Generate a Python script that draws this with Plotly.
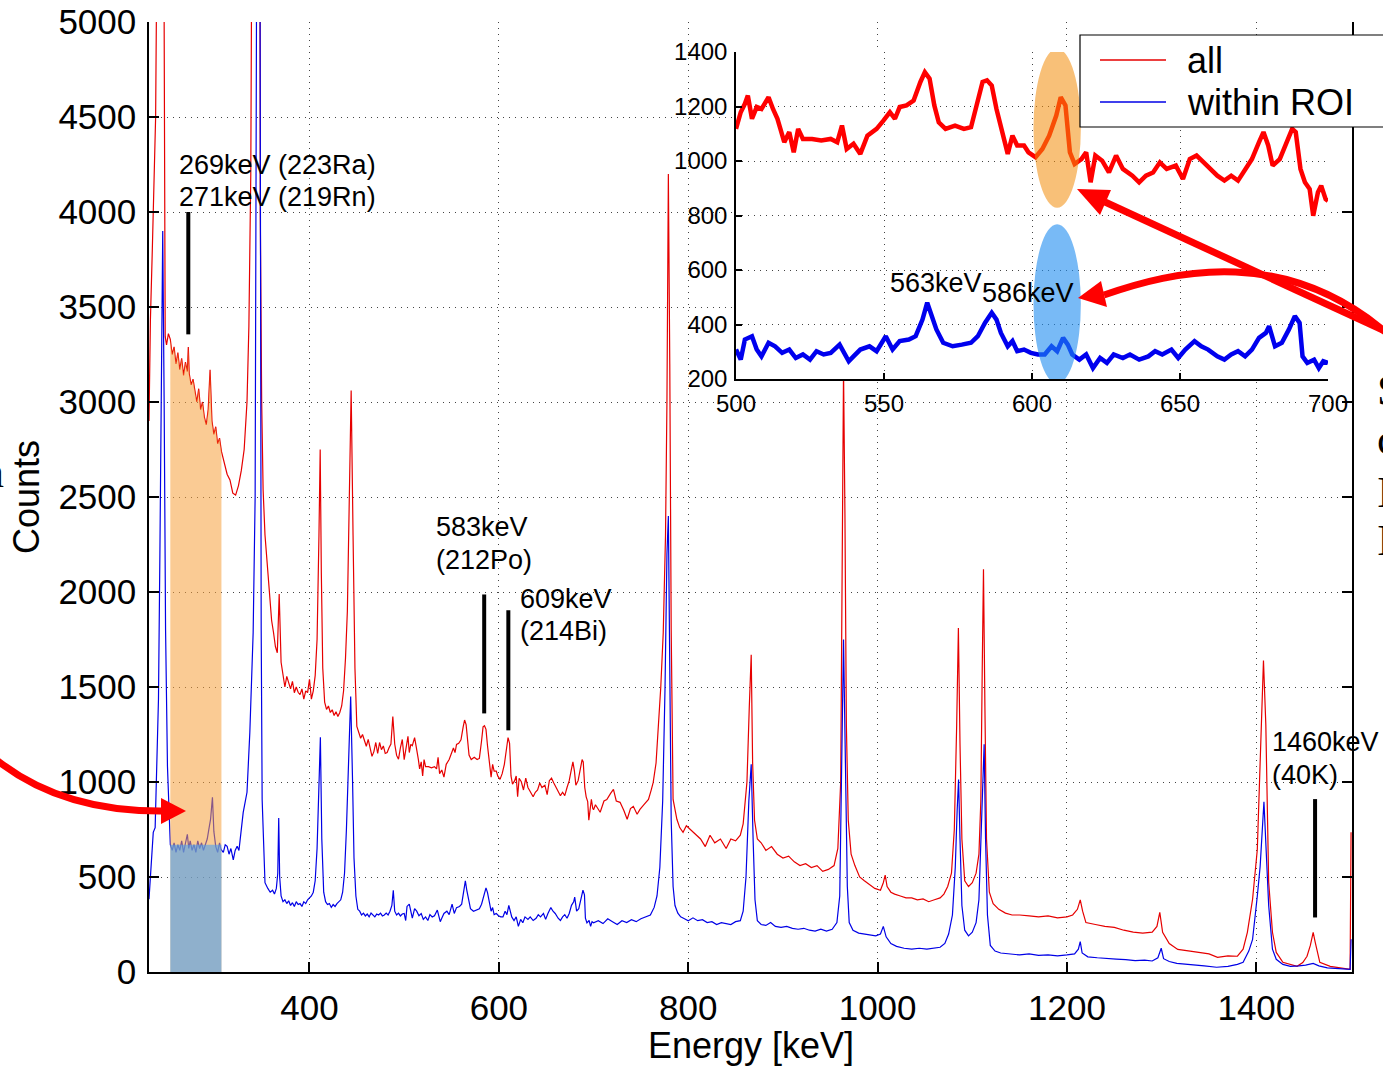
import plotly.graph_objects as go

# ---------------- data ----------------
# "all" spectrum, counts vs energy [keV]
all_low = [[230.5,2900],[232,3435],[234,3800],[236,4200],[237.5,4500],[239,5500],[241,9000],[243,12000],[245,8000],[246.5,5000],[247.6,3345],[249,3300],[251,3360],[253,3330],[255,3250],[257,3290],[259,3200],[261,3260],[263,3170],[265,3230],[267,3140],[269,3210],[271,3160],[272,3290],[273,3150],[275,3090],[277,3120],[279,3060],[281,3000],[283,3070],[285,2960],[287,3000],[289,2920],[291,2880],[293,2960],[295,3170],[297,2900],[299,2830],[301,2870],[303,2780],[305,2810],[307,2740],[310,2680],[313,2620],[316,2590],[319,2520],[322,2510],[325,2560],[328,2640],[331,2750],[334,3000],[336,3400],[338,4200],[340,5200],[342,8000],[344.5,12000],[347,9000],[348,4000],[349.5,3000],[351,2540],[353,2300],[356,2100],[358,1950],[360,1850],[362,1787],[364,1713],[366,1680],[368,1990],[370,1630],[372,1560],[374,1500],[376,1556],[378,1520],[380,1490],[382,1530],[384,1470],[386,1500],[388,1472],[390,1460],[392,1490],[394,1436],[396,1480],[398,1470],[400,1540],[402,1436],[404,1480],[406,1560],[408,1750],[410,2300],[411.3,2750],[412.5,2100],[414,1600],[416,1420],[418,1382],[420,1400],[422,1366],[424,1380],[426,1350],[428,1370],[430,1345],[432,1366],[434,1400],[436,1480],[438,1650],[440,1900],[442,2500],[444,3060],[446,2300],[448,1600],[450,1292],[452,1260],[454,1230],[456,1250],[458,1220],[460,1188],[462,1224],[464,1180],[466,1135],[468,1160],[470,1208],[472,1150],[474,1208],[476,1170],[478,1190],[480,1150],[482,1155],[484,1180],[486,1200],[488,1345],[490,1200],[492,1140],[494,1120],[496,1180],[498,1224]]
all_mid = [[500,1118],[501.6,1179],[503,1210],[504,1240],[505.4,1155],[507,1198],[508.6,1191],[511,1234],[512.5,1191],[514,1155],[515,1118],[516.3,1069],[518,1106],[519.5,1032],[521,1118],[522.6,1081],[525.7,1081],[528.8,1075],[532,1081],[534.2,1069],[535.8,1130],[537.4,1044],[539.7,1063],[542,1026],[544.4,1093],[547.5,1118],[549.8,1148],[552,1179],[553.7,1155],[555.3,1198],[557.6,1204],[560,1222],[562.3,1290],[563.8,1326],[565.4,1302],[567,1204],[568.5,1142],[570.8,1118],[574,1130],[577,1118],[579.4,1124],[581.7,1216],[583.3,1290],[584.8,1296],[586.4,1277],[588,1191],[590.3,1081],[591.8,1026],[593.4,1093],[595,1057],[597.3,1057],[598.8,1032],[601.2,1014],[603.5,1044],[605.8,1093],[608.2,1167],[609.7,1234],[611.3,1204],[612.8,1032],[614.4,989],[616.7,1007],[618.3,1032],[619.8,922],[621.4,1020],[623.7,1001],[626,958],[628.4,1020],[630.7,971],[633.9,946],[636.2,922],[638.5,946],[640.9,958],[643.2,995],[645.5,971],[648.6,983],[651,934],[653.3,1007],[655.6,1020],[658,995],[660.3,971],[662.6,946],[665,928],[667.3,946],[669.6,928],[672,971],[674.3,1007],[676.7,1069],[678.2,1106],[679.8,1057],[681.3,983],[683.7,1007],[686,1069],[687.9,1118],[689.1,1106],[690.7,971],[692.2,922],[693.8,897],[695,799],[696.6,885],[697.7,909],[699.2,860],[700,854]]
all_high = [[702,880],[707,841],[711,900],[714,908],[718,940],[721,961],[724,900],[728,893],[732,850],[735.5,804],[739,860],[742,872],[746,830],[749,856],[753,880],[758,908],[761,960],[763,998],[766,1100],[768,1262],[771,1500],[773.6,1787],[776,2300],[777.5,3000],[779,4200],[780.5,3200],[782,1800],[784,908],[788,804],[791,760],[794.5,735],[798,770],[802,751],[806,730],[809.5,714],[813,700],[818,660],[823,720],[828,680],[834,700],[840,650],[845,700],[850,690],[855,720],[858,780],[862,1000],[864.5,1400],[866.5,1670],[868,1100],[870,800],[873,700],[877,680],[882,640],[888,660],[894,620],[900,600],[906,610],[912,580],[918,560],[924,570],[930,550],[936,560],[942,530],[948,540],[954,560],[958,650],[961,1000],[962.5,2200],[964,3170],[965.5,2400],[967,1300],[969,800],[972,620],[976,560],[981,500],[986,480],[992,460],[997,440],[1003,430],[1006,470],[1008,510],[1010,450],[1014,420],[1018,410],[1024,400],[1030,390],[1036,390],[1042,380],[1048,385],[1054,370],[1060,380],[1066,390],[1070,410],[1074,450],[1078,520],[1081,750],[1083.5,1300],[1085.3,1810],[1087,1200],[1089,700],[1092,480],[1096,450],[1100,470],[1104,520],[1107,620],[1109,900],[1110.5,1600],[1111.8,2120],[1113.3,1400],[1115,700],[1118,420],[1122,360],[1128,330],[1135,310],[1142,300],[1150,300],[1160,295],[1170,290],[1180,295],[1190,285],[1200,290],[1206,300],[1211,330],[1214,380],[1216.5,320],[1220,260],[1230,250],[1240,240],[1250,235],[1260,220],[1270,210],[1280,205],[1290,210],[1295,240],[1298,314],[1301,209],[1308,150],[1317,119],[1330,110],[1341,103],[1350,95],[1359,77],[1370,85],[1380,83],[1386,120],[1390.5,209],[1396,383],[1401,645],[1404,1083],[1407.5,1640],[1410,1300],[1413,472],[1417,209],[1421,103],[1428,51],[1436,40],[1443,30],[1449,50],[1453.5,83],[1457,140],[1460,209],[1462,160],[1464,119],[1467,51],[1478,30],[1490,20],[1499,14],[1500,735]]

# "within ROI" spectrum
roi_low = [[230.5,383],[233,600],[235,735],[237,760],[239,1083],[240.5,1435],[242,2200],[243.5,3300],[245,3900],[246.5,3000],[248,1800],[250,1083],[252,750],[253,670],[255,640],[257,680],[259,630],[261,670],[263,640],[265,690],[267,630],[269,680],[271,725],[272.5,650],[274,690],[276,640],[278,670],[280,630],[282,690],[284,650],[286,680],[288,640],[290,670],[292,700],[294,760],[295.5,803],[297.5,920],[299,740],[301,660],[303,630],[305,680],[306.5,646],[309,630],[311,670],[313,662],[315,620],[317,650],[319.5,590],[321.5,640],[323.6,662],[325.5,640],[327,700],[330,840],[334,946],[337,1262],[340.5,1787],[342.6,2500],[344,5000],[346,8000],[347.5,6000],[348.2,3500],[349,1800],[350,908],[352,600],[353,470],[356,440],[358.5,420],[361,430],[363,410],[365,440],[366.5,520],[367.5,810],[368.5,500],[370,400],[372,370],[374,380],[376,360],[378,375],[380,350],[382,365],[384,345],[386,370],[388,355],[390,360],[392,345],[394,370],[396,360],[398,380],[400,390],[402,400],[404,420],[406,480],[408,650],[410,1000],[411.5,1235],[413,700],[415,420],[417,370],[419,355],[421,360],[423,340],[425,355],[427,345],[429,360],[431,370],[433,380],[435,420],[437,520],[439,750],[441,1100],[443.5,1450],[445.5,1000],[447,600],[449,400],[451,330],[453,320],[455,300],[457,310],[459,295],[461,305],[463,290],[465,310],[467,300],[469,290],[471,305],[473,300],[475,310],[477,295],[479,300],[481,310],[483,300],[485,320],[487,350],[488.5,430],[490,320],[492,300],[494,310],[496,295],[498,305]]
roi_mid = [[500,308],[501.6,271],[503,345],[505.4,357],[507,308],[508.6,283],[511,333],[513.2,320],[515.6,296],[518,308],[520.2,277],[522.6,290],[525,271],[527.2,302],[529.6,290],[532,296],[535,326],[538.1,265],[539.7,283],[542,308],[545.1,320],[547.5,302],[550.6,357],[552.9,308],[555.3,339],[558.4,345],[560.7,357],[563,418],[564.6,480],[566.1,431],[567.7,382],[570,333],[573.2,320],[576.3,326],[579.4,333],[581.7,357],[584.1,406],[586.4,443],[588,418],[589.5,369],[591.8,320],[593.4,339],[595,302],[597.3,308],[599.6,296],[602,290],[604.3,290],[606.6,320],[608.5,302],[610.5,351],[612.1,326],[613.6,290],[616,271],[618.3,290],[620.6,240],[623,277],[625.3,259],[627.6,290],[630.7,277],[633.1,290],[636.2,271],[639.3,283],[641.6,302],[644,290],[647.1,308],[649.4,277],[651.8,308],[654.9,339],[657.2,320],[659.5,308],[662.6,283],[665,271],[667.3,290],[669.6,302],[672,283],[674.3,308],[676.7,351],[679,369],[680.1,394],[682.1,320],[684.4,333],[686.8,382],[688.8,431],[690.4,406],[691.4,283],[693,259],[695.3,271],[696.9,240],[698.4,265],[700,259]]
roi_high = [[702,262],[705,270],[710,255],[715,280],[720,265],[725,250],[730,270],[735,260],[740,275],[745,265],[750,280],[755,290],[760,300],[764,340],[767,400],[770,550],[773,900],[775.5,1500],[777.5,2200],[779,2400],[780.5,1600],[782,800],[784,450],[786,350],[789,310],[792,290],[796,280],[800,270],[805,285],[810,270],[815,275],[820,260],[825,265],[830,250],[835,260],[840,255],[845,250],[850,265],[855,270],[858,320],[861,500],[864,900],[866.5,1093],[868.5,700],[870.5,380],[873,270],[877,250],[882,245],[887,260],[892,240],[898,235],[904,240],[910,230],[916,225],[922,230],[928,220],[934,215],[940,225],[946,215],[952,225],[957,260],[960,400],[962,1000],[964,1750],[966,1100],[968,450],[970,260],[974,220],[980,205],[986,200],[992,195],[998,190],[1003,200],[1006,240],[1009,185],[1014,150],[1020,135],[1028,125],[1036,120],[1044,125],[1052,120],[1060,125],[1066,130],[1071,150],[1075,200],[1079,300],[1082,550],[1084,850],[1085.5,1013],[1087,700],[1089,350],[1092,220],[1096,190],[1100,210],[1104,260],[1107,380],[1109,700],[1111,1000],[1112.5,1199],[1114,700],[1116,300],[1119,140],[1124,110],[1130,100],[1140,95],[1150,90],[1160,95],[1170,88],[1180,90],[1190,85],[1200,90],[1208,95],[1212,120],[1214,160],[1216,100],[1222,80],[1232,75],[1242,70],[1252,68],[1262,65],[1272,60],[1282,62],[1290,58],[1296,75],[1299.5,125],[1302,70],[1308,55],[1316,45],[1325,42],[1335,35],[1345,32],[1358,25],[1370,30],[1380,40],[1386,51],[1392,110],[1396,172],[1401,400],[1404,556],[1408,896],[1410.5,640],[1413,350],[1417,120],[1421,67],[1428,40],[1436,30],[1445,32],[1452,36],[1460,45],[1466,32],[1475,22],[1485,18],[1495,14],[1499,14],[1500,172]]

series_names = ["all", "within ROI"]
main_xticks = [400, 600, 800, 1000, 1200, 1400]
main_yticks = [0, 500, 1000, 1500, 2000, 2500, 3000, 3500, 4000, 4500, 5000]
inset_xticks = [500, 550, 600, 650, 700]
inset_yticks = [200, 400, 600, 800, 1000, 1200, 1400]

roi_band = [253, 307]          # keV range highlighted
roi_band_level = 670           # counts level of blue block

# peak markers: (energy, y_bottom, y_top)
markers = [(272, 3356, 4000), (584.5, 1361, 1987), (610, 1272, 1904), (1462, 287, 910)]

# ---------------- layout geometry ----------------
W, H = 1383, 1067
ML, MR, MT, MB = 149, 31, 22, 95
PW = W - ML - MR
PH = H - MT - MB

def fx(x):
    return (x - ML) / PW

def fy(y):
    return (H - MB - y) / PH

def P(x, y):
    return f"{fx(x):.5f},{fy(y):.5f}"

def split(pairs):
    return [p[0] for p in pairs], [p[1] for p in pairs]

aE, aC = split(all_low + all_mid + all_high)
rE, rC = split(roi_low + roi_mid + roi_high)
aEm, aCm = split(all_mid)
rEm, rCm = split(roi_mid)
bandE = [e for e in aE if roi_band[0] <= e <= roi_band[1]]
bandC = [c for e, c in zip(aE, aC) if roi_band[0] <= e <= roi_band[1]]

FONT = "Arial, Liberation Sans, sans-serif"
RED = "rgb(230,0,0)"
BLUE = "rgb(0,0,230)"

fig = go.Figure()
fig.add_trace(go.Scatter(x=aE, y=aC, mode="lines", name=series_names[0],
                         line=dict(color=RED, width=1.2), xaxis="x", yaxis="y"))
fig.add_trace(go.Scatter(x=rE, y=rC, mode="lines", name=series_names[1],
                         line=dict(color=BLUE, width=1.2), xaxis="x", yaxis="y"))
fig.add_trace(go.Scatter(x=bandE, y=bandC, mode="lines", fill="tozeroy",
                         fillcolor="rgba(245,160,60,0.55)", line=dict(width=0),
                         showlegend=False, hoverinfo="skip", xaxis="x", yaxis="y"))
fig.add_trace(go.Scatter(x=aEm, y=aCm, mode="lines", showlegend=False,
                         line=dict(color="#ff0000", width=4.5), xaxis="x2", yaxis="y2"))
fig.add_trace(go.Scatter(x=rEm, y=rCm, mode="lines", showlegend=False,
                         line=dict(color="#0000ee", width=4.5), xaxis="x2", yaxis="y2"))

axis_common = dict(showline=True, linecolor="black", linewidth=1.5, ticks="inside",
                   tickcolor="black", tickwidth=1.5, showgrid=True, gridcolor="#444",
                   griddash="1px,5px", gridwidth=1, zeroline=False, automargin=False,
                   tickfont=dict(family=FONT, size=35, color="black"))
inset_font = dict(family=FONT, size=24, color="black")

fig.update_layout(
    width=W, height=H,
    margin=dict(l=ML, r=MR, t=MT, b=MB, autoexpand=False),
    paper_bgcolor="white", plot_bgcolor="white",
    xaxis=dict(domain=[0, 1], anchor="y", range=[230.5, 1501], tickvals=main_xticks,
               ticklen=10, ticklabelstandoff=4, **axis_common),
    yaxis=dict(domain=[0, 1], anchor="x", range=[0, 5000], tickvals=main_yticks,
               ticklen=10, mirror="ticks", ticklabelstandoff=4, **axis_common),
    xaxis2=dict(domain=[fx(736), fx(1328)], anchor="y2", range=[500, 700],
                tickvals=inset_xticks, ticklen=6, ticklabelstandoff=2,
                **{**axis_common, "tickfont": inset_font}),
    yaxis2=dict(domain=[fy(379), fy(52)], anchor="x2", range=[200, 1400],
                tickvals=inset_yticks, ticklen=6, ticklabelstandoff=2,
                **{**axis_common, "tickfont": inset_font}),
    showlegend=False,
)

shapes = []
# blue ROI block
shapes.append(dict(type="rect", xref="x", yref="y", x0=roi_band[0], x1=roi_band[1],
                   y0=0, y1=roi_band_level, fillcolor="rgba(72,158,241,0.6)",
                   line=dict(width=0), layer="above"))
# peak marker lines
for e, y0, y1 in markers:
    shapes.append(dict(type="line", xref="x", yref="y", x0=e, x1=e, y0=y0, y1=y1,
                       line=dict(color="black", width=4), layer="above"))
# inset ellipses
shapes.append(dict(type="circle", xref="x2", yref="y2", x0=600.5, x1=616.5, y0=828, y1=1412,
                   fillcolor="rgba(242,140,10,0.55)", line=dict(width=0), layer="above"))
shapes.append(dict(type="circle", xref="x2", yref="y2", x0=600.5, x1=616.5, y0=183, y1=768,
                   fillcolor="rgba(30,140,240,0.6)", line=dict(width=0), layer="above"))
# legend box (drawn by hand so it can run off the right edge like the reference)
shapes.append(dict(type="rect", xref="paper", yref="paper",
                   x0=fx(1080), x1=fx(1420), y0=fy(127), y1=fy(35),
                   fillcolor="white", line=dict(color="black", width=1.2), layer="above"))
shapes.append(dict(type="line", xref="paper", yref="paper", x0=fx(1100), x1=fx(1166),
                   y0=fy(60), y1=fy(60), line=dict(color=RED, width=1.5), layer="above"))
shapes.append(dict(type="line", xref="paper", yref="paper", x0=fx(1100), x1=fx(1166),
                   y0=fy(102), y1=fy(102), line=dict(color=BLUE, width=1.5), layer="above"))
# red arrows
ARROW = "rgb(255,0,0)"
shapes.append(dict(type="path", xref="paper", yref="paper",
                   path=f"M {P(-30,735)} Q {P(40,812)} {P(163,811)}",
                   line=dict(color=ARROW, width=7), fillcolor="rgba(0,0,0,0)", layer="above"))
shapes.append(dict(type="path", xref="paper", yref="paper",
                   path=f"M {P(161,798)} L {P(186,811)} L {P(161,824)} Z",
                   line=dict(width=0), fillcolor=ARROW, layer="above"))
shapes.append(dict(type="path", xref="paper", yref="paper",
                   path=f"M {P(1400,338)} L {P(1105,202)}",
                   line=dict(color=ARROW, width=7), layer="above"))
shapes.append(dict(type="path", xref="paper", yref="paper",
                   path=f"M {P(1111,190)} L {P(1077,189)} L {P(1100,215)} Z",
                   line=dict(width=0), fillcolor=ARROW, layer="above"))
shapes.append(dict(type="path", xref="paper", yref="paper",
                   path=f"M {P(1400,345)} C {P(1290,240)} {P(1170,272)} {P(1104,295)}",
                   line=dict(color=ARROW, width=7), fillcolor="rgba(0,0,0,0)", layer="above"))
shapes.append(dict(type="path", xref="paper", yref="paper",
                   path=f"M {P(1107,307)} L {P(1078,298)} L {P(1101,281)} Z",
                   line=dict(width=0), fillcolor=ARROW, layer="above"))
fig.update_layout(shapes=shapes)

ann = []
def txt(text, x, y, xref="x", yref="y", size=27, xanchor="left", family=FONT, angle=0):
    ann.append(dict(text=text, x=x, y=y, xref=xref, yref=yref, showarrow=False,
                    xanchor=xanchor, yanchor="middle", textangle=angle,
                    font=dict(family=family, size=size, color="black")))

txt("269keV (223Ra)", 260.3, 4246)
txt("271keV (219Rn)", 260.3, 4077)
txt("583keV", 531.7, 2341)
txt("(212Po)", 531.7, 2167)
txt("609keV", 620.5, 1962)
txt("(214Bi)", 620.5, 1793)
txt("1460keV", 1414.8, 1209)
txt("(40K)", 1414.8, 1036)
txt("563keV", 551.4, 552, xref="x2", yref="y2")
txt("586keV", 582.4, 516, xref="x2", yref="y2")
txt(series_names[0], fx(1185), fy(60), xref="paper", yref="paper", size=36)
txt(series_names[1], fx(1185), fy(102), xref="paper", yref="paper", size=36)
txt("Energy [keV]", 0.5, fy(1045), xref="paper", yref="paper", size=36, xanchor="center")
txt("Counts", fx(26), 0.5, xref="paper", yref="paper", size=36, xanchor="center", angle=-90)
SERIF = "Liberation Serif, Times New Roman, serif"
for t, yy in [("S", 390), ("c", 440), ("I", 492), ("I", 540)]:
    txt(t, fx(1375), fy(yy), xref="paper", yref="paper", size=44, family=SERIF)
txt("n", fx(6), fy(472), xref="paper", yref="paper", size=44, xanchor="right", family=SERIF)
fig.update_layout(annotations=ann)

fig.write_html("out.html")
